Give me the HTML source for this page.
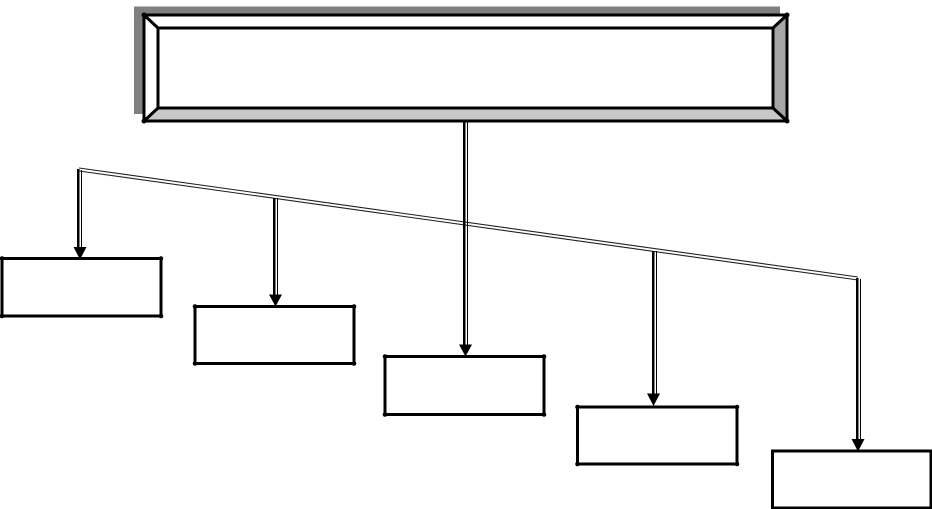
<!DOCTYPE html>
<html>
<head>
<meta charset="utf-8">
<style>
html,body{margin:0;padding:0;background:#fff;width:932px;height:509px;overflow:hidden}
svg{display:block}
</style>
</head>
<body>
<svg width="932" height="509" viewBox="0 0 932 509" xmlns="http://www.w3.org/2000/svg">
<!-- shadow -->
<rect x="134" y="6.500" width="646" height="107.500" fill="#808080"/>
<!-- bevel box -->
<rect x="144" y="15" width="643" height="106" fill="#fff"/>
<polygon points="787,15 773,28 773,108 787,121" fill="#a6a6a6"/>
<polygon points="144,121 158,108 773,108 787,121" fill="#c9c9c9"/>
<g stroke="#000" fill="none" stroke-width="3">
<rect x="144" y="15" width="643" height="106"/>
<rect x="158" y="28" width="615" height="80"/>
<path d="M144 15L158 28M787 15L773 28M144 121L158 108M787 121L773 108"/>
</g>
<g fill="#000">
<circle cx="144" cy="15" r="2.500"/><circle cx="787" cy="15" r="2.500"/>
<circle cx="144" cy="121" r="2.500"/><circle cx="787" cy="121" r="2.500"/>
</g>
<!-- slanted double connector -->
<g stroke="#222" stroke-width="1.100" fill="none">
<line x1="79" y1="168" x2="858" y2="277"/>
<line x1="79" y1="171" x2="858" y2="280"/>
</g>
<!-- vertical double connectors -->
<g fill="#000">
<rect x="77" y="169" width="2.500" height="81"/><rect x="81" y="170" width="1" height="80"/>
<rect x="273" y="198" width="2.500" height="99"/><rect x="277" y="198" width="1" height="99"/>
<rect x="463" y="122" width="2.500" height="225"/><rect x="467" y="122" width="1" height="225"/>
<rect x="652" y="251" width="2.500" height="145"/><rect x="656" y="251" width="1" height="145"/>
<rect x="856" y="278" width="2.500" height="163"/><rect x="860" y="279" width="1" height="162"/>
</g>
<!-- arrowheads -->
<g fill="#000">
<polygon points="73.500,247 86.500,247 80,259.500"/>
<polygon points="269,294.500 282,294.500 275.500,306.500"/>
<polygon points="459,344.500 472,344.500 465.500,356.500"/>
<polygon points="647,393.500 660,393.500 653.500,406"/>
<polygon points="851.500,439 864.500,439 858,451.500"/>
</g>
<!-- boxes -->
<g stroke="#000" fill="none" stroke-width="3">
<rect x="2" y="258.500" width="159" height="57.500"/>
<rect x="195" y="306.500" width="159" height="57"/>
<rect x="385" y="356.500" width="159" height="58"/>
<rect x="577.500" y="407" width="159.500" height="57"/>
<rect x="772.500" y="451" width="158.500" height="57"/>
</g>
<g fill="#000">
<circle cx="2" cy="258.500" r="2.300"/><circle cx="161" cy="258.500" r="2.300"/><circle cx="2" cy="316" r="2.300"/><circle cx="161" cy="316" r="2.300"/>
<circle cx="195" cy="306.500" r="2.300"/><circle cx="354" cy="306.500" r="2.300"/><circle cx="195" cy="363.500" r="2.300"/><circle cx="354" cy="363.500" r="2.300"/>
<circle cx="385" cy="356.500" r="2.300"/><circle cx="544" cy="356.500" r="2.300"/><circle cx="385" cy="414.500" r="2.300"/><circle cx="544" cy="414.500" r="2.300"/>
<circle cx="577.500" cy="407" r="2.300"/><circle cx="737" cy="407" r="2.300"/><circle cx="577.500" cy="464" r="2.300"/><circle cx="737" cy="464" r="2.300"/>
</g>
</svg>
</body>
</html>
